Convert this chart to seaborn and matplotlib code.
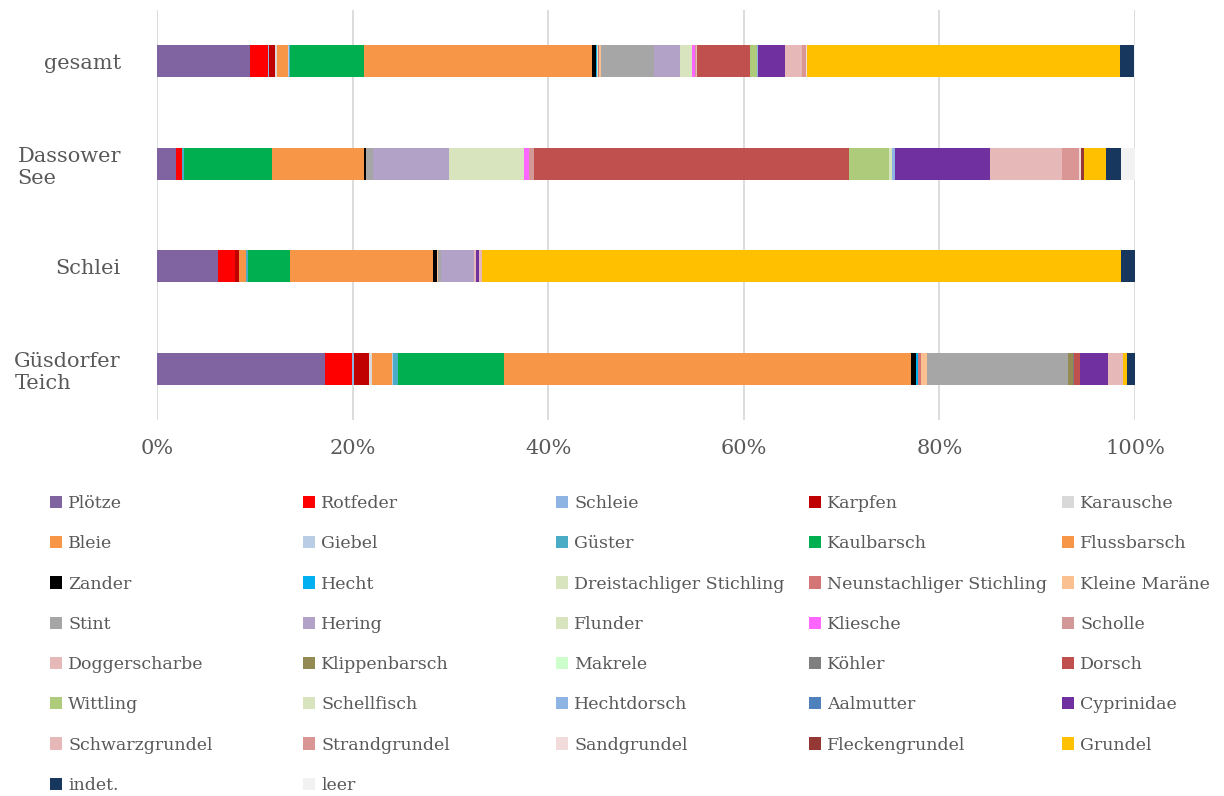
import pandas as pd
import matplotlib.pyplot as plt
from matplotlib.patches import Patch
import seaborn as sns

orte = ['gesamt', 'Dassower\nSee', 'Schlei', 'Güsdorfer\nTeich']

arten = ['Plötze', 'Rotfeder', 'Schleie', 'Karpfen', 'Karausche',
         'Bleie', 'Giebel', 'Güster', 'Kaulbarsch', 'Flussbarsch',
         'Zander', 'Hecht', 'Dreistachliger Stichling', 'Neunstachliger Stichling', 'Kleine Maräne',
         'Stint', 'Hering', 'Flunder', 'Kliesche', 'Scholle',
         'Doggerscharbe', 'Klippenbarsch', 'Makrele', 'Köhler', 'Dorsch',
         'Wittling', 'Schellfisch', 'Hechtdorsch', 'Aalmutter', 'Cyprinidae',
         'Schwarzgrundel', 'Strandgrundel', 'Sandgrundel', 'Fleckengrundel', 'Grundel',
         'indet.', 'leer']

farben = ['#8064A2', '#FF0000', '#8EB4E3', '#C00000', '#D9D9D9',
          '#F79646', '#B9CDE5', '#4BACC6', '#00B050', '#F79646',
          '#000000', '#00B0F0', '#D7E4BD', '#D47676', '#FAC090',
          '#A6A6A6', '#B3A2C7', '#D7E4BD', '#FF66FF', '#D39999',
          '#E6B9B8', '#948A54', '#CCFFCC', '#7F7F7F', '#C0504D',
          '#ADCB7B', '#D7E4BD', '#8EB4E3', '#4F81BD', '#7030A0',
          '#E6B9B8', '#DA9694', '#F2DCDB', '#953735', '#FFC000',
          '#17375E', '#F2F2F2']

# Anteile in %, Reihenfolge wie arten
gesamt = [9.5, 1.85, 0.1, 0.6, 0.2, 1.2, 0.05, 0.15, 7.5, 23.4,
          0.35, 0.15, 0.05, 0.1, 0.2, 5.4, 2.7, 1.25, 0.25, 0.1,
          0.1, 0.05, 0.0, 0.0, 5.4, 0.7, 0.05, 0.05, 0.0, 2.8,
          1.7, 0.45, 0.05, 0.05, 32.0, 1.45, 0.1]
dassower = [1.95, 0.65, 0, 0, 0, 0, 0, 0.2, 9.0, 9.35,
            0.2, 0, 0, 0, 0, 0.7, 7.85, 7.67, 0.5, 0.45,
            0, 0, 0, 0, 32.3, 4.0, 0.3, 0.35, 0, 9.7,
            7.35, 1.75, 0.2, 0.3, 2.3, 1.5, 1.45]
schlei = [6.25, 1.7, 0, 0.45, 0, 0.75, 0, 0.15, 4.35, 14.6,
          0.4, 0, 0, 0, 0.1, 0.25, 3.4, 0, 0, 0,
          0.2, 0, 0, 0, 0, 0, 0, 0, 0, 0.35,
          0.25, 0, 0, 0, 65.4, 1.4, 0]
guesdorf = [17.2, 2.8, 0.2, 1.5, 0.27, 2.05, 0.15, 0.45, 10.9, 41.6,
            0.5, 0.28, 0, 0.3, 0.6, 14.4, 0, 0, 0, 0,
            0, 0.54, 0, 0.1, 0.65, 0, 0, 0, 0, 2.83,
            1.55, 0, 0, 0, 0.35, 0.85, 0]

df = pd.DataFrame([gesamt, dassower, schlei, guesdorf], columns=arten)
df = df.div(df.sum(axis=1), axis=0) * 100
cum = df.cumsum(axis=1)
cum['Ort'] = orte

sns.set_theme(style='white')
plt.rcParams['font.family'] = ['DejaVu Serif']
grau = '#595959'

fig = plt.figure(figsize=(12.24, 7.96), dpi=100)
ax = fig.add_axes([157 / 1224, 1 - 420 / 796, (1135 - 157) / 1224, 410 / 796])

# gestapelt: kumulierte Summen von hinten nach vorne übereinander zeichnen
for art, farbe in reversed(list(zip(arten, farben))):
    sns.barplot(data=cum, x=art, y='Ort', orient='h', color=farbe, saturation=1,
                width=0.31, errorbar=None, linewidth=0, ax=ax)

ax.set_xlim(0, 100)
ax.set_xticks(range(0, 101, 20))
ax.set_xticklabels([f'{t}%' for t in range(0, 101, 20)])
ax.set_xlabel('')
ax.set_ylabel('')
ax.grid(axis='x', color='#D9D9D9', lw=1.3)
ax.set_axisbelow(True)
for s in ax.spines.values():
    s.set_visible(False)
ax.tick_params(axis='x', length=0, labelsize=15, colors=grau, pad=14)
ax.tick_params(axis='y', length=0, labelsize=15, colors=grau, pad=26)
for lab in ax.get_yticklabels():
    lab.set_multialignment('left')

# Legende: 5 Spalten, zeilenweise gefüllt
spalten_x = [50, 303, 556, 809, 1062]
for j, x in enumerate(spalten_x):
    idx = list(range(j, len(arten), 5))
    handles = [Patch(facecolor=farben[i], edgecolor='none') for i in idx]
    leg = fig.legend(handles, [arten[i] for i in idx], loc='upper left',
                     bbox_to_anchor=(x / 1224, 1 - 495 / 796), frameon=False,
                     borderaxespad=0, borderpad=0, fontsize=12.5,
                     handlelength=0.7, handleheight=0.7, handletextpad=0.35,
                     labelspacing=1.34)
    for t in leg.get_texts():
        t.set_color(grau)

fig.savefig('out.png', dpi=100)
